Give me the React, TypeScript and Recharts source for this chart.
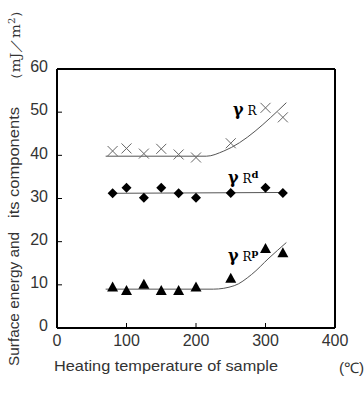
import React from "react";
import { ComposedChart, Line, Scatter, XAxis, YAxis } from "recharts";

// measured points (heating temperature, mJ/m2)
const temps = [80, 100, 125, 150, 175, 200, 250, 300, 325];
const gammaR = [41.0, 41.6, 40.4, 41.5, 40.2, 39.5, 42.8, 51.0, 48.8];
const gammaRd = [31.2, 32.5, 30.2, 32.5, 31.2, 30.2, 31.3, 32.5, 31.3];
const gammaRp = [9.4, 8.6, 10.0, 8.6, 8.6, 9.4, 11.4, 18.3, 17.3];

// hand drawn trend curves
const fitRx = [70, 215, 240, 330];
const fitRy = [39.8, 39.8, 41.0, 52.2];
const fitRdx = [75, 330];
const fitRdy = [31.2, 31.4];
const fitRpx = [70, 225, 255, 280, 305, 330];
const fitRpy = [9.0, 9.0, 9.8, 12.4, 16.2, 19.8];

const xTicks = [0, 100, 200, 300, 400];
const yTicks = [0, 10, 20, 30, 40, 50, 60];

const pts = (ys: number[]) => temps.map((t, i) => ({ x: t, y: ys[i] }));
const fit = (xs: number[], ys: number[]) => xs.map((t, i) => ({ x: t, y: ys[i] }));

const Cross = (p: any) => (
  <path
    d={`M${p.cx - 5},${p.cy - 5}L${p.cx + 5},${p.cy + 5}M${p.cx + 5},${p.cy - 5}L${p.cx - 5},${p.cy + 5}`}
    stroke="#666"
    strokeWidth={1}
  />
);
const Diamond = (p: any) => (
  <path d={`M${p.cx},${p.cy - 5}L${p.cx + 5},${p.cy}L${p.cx},${p.cy + 5}L${p.cx - 5},${p.cy}Z`} fill="#000" />
);
const Tri = (p: any) => (
  <path d={`M${p.cx},${p.cy - 6}L${p.cx + 5.5},${p.cy + 4}L${p.cx - 5.5},${p.cy + 4}Z`} fill="#000" />
);

const sans = "'Liberation Sans', Arial, sans-serif";
const serif = "'DejaVu Serif', serif";
const X_MARGIN = 6;
const Y_MARGIN = 9;

// tick label plus a short inward tick mark
const XTick = (p: any) => (
  <g>
    <line x1={p.x} x2={p.x} y1={p.y - X_MARGIN} y2={p.y - X_MARGIN - 5} stroke="#000" />
    <text x={p.x} y={p.y} dy="0.78em" textAnchor="middle" fill="#333" fontSize={16} fontFamily={sans}>
      {p.payload.value}
    </text>
  </g>
);
const YTick = (p: any) => (
  <g>
    <line x1={p.x + Y_MARGIN} x2={p.x + Y_MARGIN + 5} y1={p.y} y2={p.y} stroke="#000" />
    <text x={p.x} y={p.y} dy="0.2em" textAnchor="end" fill="#333" fontSize={16} fontFamily={sans}>
      {p.payload.value}
    </text>
  </g>
);
const NoLabel = () => <g />;

const gFont: React.CSSProperties = { position: "absolute", fontFamily: serif, color: "#000", whiteSpace: "nowrap" };
const frame = { stroke: "#000", strokeWidth: 2 };

export default function App() {
  return (
    <div style={{ position: "absolute", left: 0, top: 0, width: 364, height: 397, background: "#fff" }}>
      <ComposedChart width={364} height={397} margin={{ top: 68, right: 28, left: 0, bottom: 39 }}>
        <XAxis
          xAxisId="b"
          type="number"
          dataKey="x"
          domain={[0, 400]}
          ticks={xTicks}
          tickLine={false}
          tickSize={0}
          tickMargin={X_MARGIN}
          axisLine={frame}
          tick={XTick}
          height={30}
        />
        <XAxis xAxisId="t" orientation="top" type="number" dataKey="x" domain={[0, 400]} ticks={xTicks} tick={NoLabel} tickLine={false} axisLine={frame} height={1} />
        <YAxis
          yAxisId="l"
          type="number"
          dataKey="y"
          domain={[0, 60]}
          ticks={yTicks}
          tickLine={false}
          tickSize={0}
          tickMargin={Y_MARGIN}
          axisLine={frame}
          tick={YTick}
          width={57}
        />
        <YAxis yAxisId="r" orientation="right" type="number" dataKey="y" domain={[0, 60]} ticks={yTicks} tick={NoLabel} tickLine={false} axisLine={frame} width={1} />

        <Line xAxisId="b" yAxisId="l" data={fit(fitRx, fitRy)} dataKey="y" type="monotone" stroke="#555" strokeWidth={1} dot={false} isAnimationActive={false} />
        <Line xAxisId="b" yAxisId="l" data={fit(fitRdx, fitRdy)} dataKey="y" type="linear" stroke="#555" strokeWidth={1} dot={false} isAnimationActive={false} />
        <Line xAxisId="b" yAxisId="l" data={fit(fitRpx, fitRpy)} dataKey="y" type="monotone" stroke="#555" strokeWidth={1} dot={false} isAnimationActive={false} />

        <Scatter xAxisId="b" yAxisId="l" data={pts(gammaR)} shape={Cross} isAnimationActive={false} />
        <Scatter xAxisId="b" yAxisId="l" data={pts(gammaRd)} shape={Diamond} isAnimationActive={false} />
        <Scatter xAxisId="b" yAxisId="l" data={pts(gammaRp)} shape={Tri} isAnimationActive={false} />
      </ComposedChart>

      {/* curve labels */}
      <div style={{ ...gFont, left: 233, top: 100, fontSize: 12 }}>
        <b style={{ fontSize: 16 }}>γ</b> R
      </div>
      <div style={{ ...gFont, left: 228, top: 168, fontSize: 12 }}>
        <b style={{ fontSize: 16 }}>γ</b> R<sup style={{ fontSize: 10, fontWeight: "bold" }}>d</sup>
      </div>
      <div style={{ ...gFont, left: 228, top: 246, fontSize: 12 }}>
        <b style={{ fontSize: 16 }}>γ</b> R<sup style={{ fontSize: 10, fontWeight: "bold" }}>p</sup>
      </div>

      {/* axis titles */}
      <svg width={364} height={397} style={{ position: "absolute", left: 0, top: 0, pointerEvents: "none" }}>
        <g fill="#333" fontFamily={sans} fontSize={14.5}>
          <text transform="translate(19,366) rotate(-90)" textLength={134} lengthAdjust="spacingAndGlyphs">
            Surface energy and
          </text>
          <text transform="translate(19,218) rotate(-90)" textLength={111} lengthAdjust="spacingAndGlyphs">
            its components
          </text>
          <text x={54} y={371} fontSize={15} textLength={224} lengthAdjust="spacingAndGlyphs">
            Heating temperature of sample
          </text>
          <text x={339} y={373} textLength={25} lengthAdjust="spacingAndGlyphs">
            (℃)
          </text>
        </g>
        <text transform="translate(20,87) rotate(-90)" fill="#333" fontFamily={serif} fontSize={13} textLength={84} lengthAdjust="spacingAndGlyphs">
          （mJ／m<tspan dy={-5} fontSize={9}>2</tspan>
          <tspan dy={5}>）</tspan>
        </text>
      </svg>
    </div>
  );
}
